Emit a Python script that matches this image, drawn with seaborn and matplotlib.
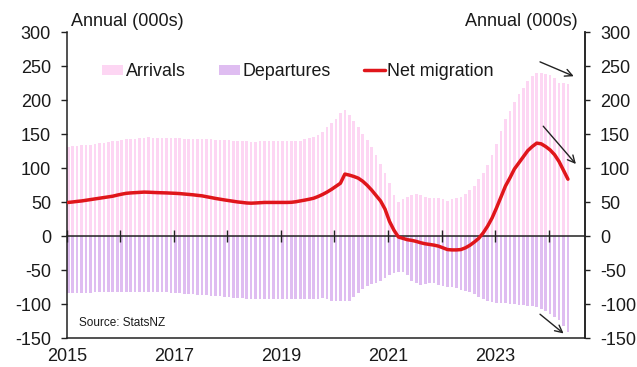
import numpy as np
import pandas as pd
import matplotlib
matplotlib.use("Agg")
import matplotlib.pyplot as plt
import seaborn as sns
from matplotlib.patches import Patch
from matplotlib.lines import Line2D

# ---------------- data (annual totals, 000s; monthly from Jan 2015) ----------------
arrivals = [
    131.5, 132.5, 133.4, 134.4, 134.4, 134.9, 135.9, 136.9, 137.8, 138.8,
    139.8, 140.8, 141.8, 142.8, 143.3, 143.7, 144.3, 144.8, 145.8, 144.8,
    144.3, 144.3, 144.3, 144.3, 144.3, 144.3, 143.7, 143.3, 143.3, 143.3,
    143.3, 143.3, 142.8, 141.8, 141.8, 141.8, 141.3, 140.8, 140.3, 140.3,
    140.3,
    139.3, 139.3, 139.8, 139.8, 139.8, 139.8, 139.8, 139.8, 139.8, 139.8,
    139.8, 140.3, 142.8, 144.3, 146.2, 148.7, 153.6, 160.5, 166.4, 172.4,
    181.2, 186.1, 178.7, 169.9, 160.5, 150.7, 141.8, 131.5, 119.6, 106.8,
    92.6, 77.8, 60.6, 49.8, 54.2, 58.0, 60.6, 62.0, 60.6, 57.6,
    56.6, 56.1, 56.1, 55.1, 52.1, 54.7, 56.6, 58.0, 61.6, 67.9,
    73.9, 84.2, 93.5, 104.9, 119.6, 135.5, 155.0, 172.4, 184.6, 196.9,
    209.3, 218.6, 227.9, 236.3, 240.3, 240.3, 238.8, 237.4, 232.9, 225.6,
    225.6, 223.5,
]
departures = (
    [-83.0] * 6 + [-82.5] * 17 +
    [-83.0, -83.5, -84.0, -84.5, -85.0, -85.5, -86.0, -86.5, -87.0, -87.5,
     -88.0, -88.5, -89.0, -89.5, -90.0, -90.5, -91.0] +
    [-91.5] * 17 +
    [-91.0, -91.5, -95.0, -95.5, -95.5, -95.5, -95.0,
     -89.6, -83.0, -77.0, -73.4, -70.4, -68.0, -65.0, -61.5, -56.6, -54.0,
     -53.0, -53.0, -57.6, -65.0, -69.0, -71.4, -70.4, -69.4, -69.4, -71.0,
     -72.9, -73.9, -74.9, -76.3, -78.3, -79.8, -82.2, -84.7, -88.6, -92.0,
     -94.5, -96.5, -97.5, -97.5, -98.5, -99.5, -100.0, -100.4, -101.0, -102.0,
     -103.0, -104.4, -107.4, -110.3, -114.0, -118.0, -123.0, -131.5, -141.0]
)
net_migration = [
    49.8, 50.5, 51.3, 52.0, 53.0, 54.0, 55.0, 56.0, 57.0, 58.0,
    59.0, 60.6, 62.0, 63.2, 63.8, 64.2, 64.6, 65.0, 64.8, 64.5,
    64.2, 64.0, 63.8, 63.5, 63.2, 62.8, 62.2, 61.6, 61.0, 60.2,
    59.5, 58.2, 57.0, 55.7, 54.6, 53.5, 52.5, 51.5, 50.5, 49.8,
    49.0, 48.7, 49.0, 49.4, 49.8, 49.8, 49.8, 49.8, 49.8, 49.8,
    50.0, 50.8, 52.0, 53.2, 54.5, 56.0, 58.5, 61.5, 65.0, 69.0,
    73.5, 78.0, 91.5, 90.0, 88.0, 85.5, 81.0, 75.0, 68.0, 60.0,
    52.0, 40.0, 22.0, 9.0, -1.0, -3.0, -5.0, -6.0, -7.5, -9.5,
    -11.0, -12.0, -13.0, -14.5, -17.0, -19.5, -20.0, -20.0, -19.5, -17.0,
    -13.3, -8.5, -3.0, 5.0, 15.0, 27.0, 42.0, 58.0, 74.0, 86.0,
    99.0, 108.0, 117.0, 126.0, 132.0, 137.0, 136.0, 132.0, 127.0, 120.0,
    110.0, 97.0, 84.0,
]
months = pd.date_range("2015-01-01", periods=len(arrivals), freq="MS")
year_labels = ["2015", "2017", "2019", "2021", "2023"]
year_ticks = list(range(2015, 2025))
y_ticks = [-150, -100, -50, 0, 50, 100, 150, 200, 250, 300]
series_names = ["Arrivals", "Departures", "Net migration"]

# annotation arrows (data coords: start -> end)
arrows = [((2023.84, 256.5), (2024.47, 235.4)),
          ((2023.90, 161.9), (2024.51, 106.3)),
          ((2023.84, -114.6), (2024.28, -142.9))]

# ---------------- style ----------------
c_arr = "#FDD6F3"
c_dep = "#DFBDF1"
c_net = "#E0161B"
c_axis = "#222222"

sns.set_theme(style="white")
plt.rcParams["font.family"] = ["Liberation Sans", "DejaVu Sans"]
plt.rcParams["text.color"] = "#1a1a1a"

fig = plt.figure(figsize=(6.37, 3.67), dpi=100)
L, R, B, T = 66.7 / 637, 585 / 637, 1 - 338.3 / 367, 1 - 32.3 / 367
ax = fig.add_axes([L, B, R - L, T - B])

t = months.year + (months.month - 1 + 0.34) / 12.0
df = pd.DataFrame({"t": t, "arrivals": arrivals, "departures": departures,
                   "net": net_migration})

sns.barplot(data=df, x="t", y="arrivals", native_scale=True, color=c_arr,
            saturation=1, width=0.6, errorbar=None, linewidth=0, ax=ax, zorder=1)
sns.barplot(data=df, x="t", y="departures", native_scale=True, color=c_dep,
            saturation=1, width=0.6, errorbar=None, linewidth=0, ax=ax, zorder=1)
sns.lineplot(data=df, x="t", y="net", color=c_net, linewidth=2.5, ax=ax,
             zorder=5, solid_capstyle="round")

ymin, ymax = y_ticks[0], y_ticks[-1]
ax.set_ylim(ymin, ymax)
ax.set_xlim(2015.0, 2024.68)
ax.set_xlabel("")
ax.set_ylabel("")

ax.set_xticks([int(s) for s in year_labels])
ax.set_xticklabels(year_labels)
ax.tick_params(axis="x", length=0, pad=7, labelsize=13, colors="#1a1a1a")
ax.set_yticks(y_ticks)
ax.set_yticklabels([str(v) for v in y_ticks])
ax.tick_params(axis="y", left=True, length=4.1, width=1, direction="out",
               pad=7.2, labelsize=13, color=c_axis, labelcolor="#1a1a1a")
for s in ["left", "bottom", "right"]:
    ax.spines[s].set_color(c_axis)
    ax.spines[s].set_linewidth(1.1)
ax.spines["top"].set_visible(False)

ax2 = ax.twinx()
ax2.set_ylim(ymin, ymax)
ax2.set_yticks(y_ticks)
ax2.set_yticklabels([str(v) for v in y_ticks])
ax2.tick_params(axis="y", right=True, length=3.6, width=1, direction="out",
                pad=7.2, labelsize=13, color=c_axis, labelcolor="#1a1a1a")
for s in ["left", "top", "bottom"]:
    ax2.spines[s].set_visible(False)
ax2.spines["right"].set_color(c_axis)
ax2.spines["right"].set_linewidth(1.1)
ax2.grid(False)

# zero line with year ticks
zero_loc = (0 - ymin) / (ymax - ymin)
sec = ax.secondary_xaxis(zero_loc)
sec.set_xticks(year_ticks)
sec.tick_params(axis="x", direction="inout", length=8, width=1, color=c_axis,
                labelbottom=False, labeltop=False)
sec.spines["bottom"].set_color(c_axis)
sec.spines["bottom"].set_linewidth(1.1)
sec.set_zorder(3)

for (x0, y0), (x1, y1) in arrows:
    ax.annotate("", xy=(x1, y1), xytext=(x0, y0),
                arrowprops=dict(arrowstyle="->", color=c_axis, lw=1.0,
                                mutation_scale=13, shrinkA=0, shrinkB=0),
                zorder=6)

ax.text(0.024, 0.051, "Source: StatsNZ", transform=ax.transAxes, fontsize=8.5,
        ha="left", va="center", color="#1a1a1a")

fig.text(71 / 637, 1 - 22 / 367, "Annual (000s)", ha="left", va="center",
         fontsize=13)
fig.text(578 / 637, 1 - 22 / 367, "Annual (000s)", ha="right", va="center",
         fontsize=13)

handles = [Patch(facecolor=c_arr, edgecolor="none"),
           Patch(facecolor=c_dep, edgecolor="none"),
           Line2D([0], [0], color=c_net, linewidth=2.5)]
fig.legend(handles, series_names, loc="center left",
           bbox_to_anchor=(102 / 637, 1 - 71.5 / 367), ncol=3, frameon=False,
           fontsize=12.9, handlelength=1.17, handleheight=0.5,
           handletextpad=0.15, columnspacing=1.85, borderpad=0, borderaxespad=0)

fig.savefig("out.png", dpi=100)
